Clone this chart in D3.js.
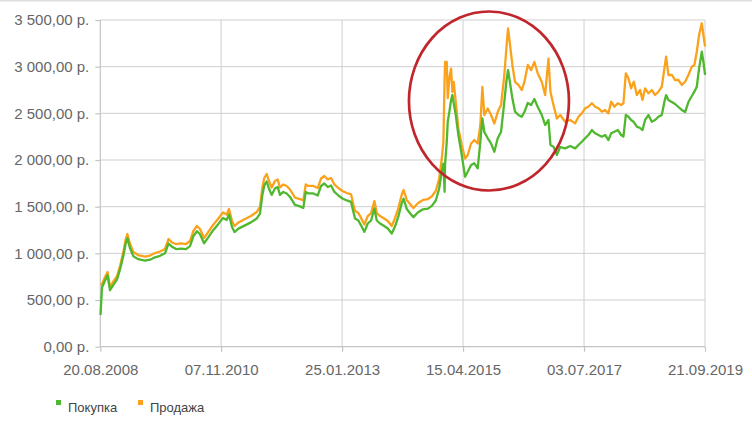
<!DOCTYPE html>
<html>
<head>
<meta charset="utf-8">
<script src="https://cdn.jsdelivr.net/npm/d3@7"></script>
<style>
  html, body { margin: 0; padding: 0; background: #fff; }
  svg { display: block; }
  text { font-family: "Liberation Sans", Arial, sans-serif; }
</style>
</head>
<body>
<svg id="chart" width="752" height="426"></svg>
<script>
// ---- Data ----
const seriesNames = ["Покупка", "Продажа"];
const seriesColors = ["#4fb82e", "#fba21c"];

// Dates as decimal years
const yearFrac = [
  2008.638, 2008.665, 2008.720, 2008.766, 2008.812, 2008.867, 2008.940, 2008.995,
  2009.059, 2009.096, 2009.129, 2009.179, 2009.239, 2009.325, 2009.454, 2009.545,
  2009.637, 2009.729, 2009.820, 2009.885, 2009.949, 2010.022, 2010.114, 2010.205,
  2010.279, 2010.339, 2010.407, 2010.462, 2010.536, 2010.614, 2010.701, 2010.792,
  2010.884, 2010.952, 2010.994, 2011.049, 2011.095, 2011.168, 2011.287, 2011.397,
  2011.502, 2011.562, 2011.605, 2011.641, 2011.685, 2011.727, 2011.777, 2011.837,
  2011.887, 2011.929, 2011.990, 2012.052, 2012.113, 2012.204, 2012.296, 2012.356,
  2012.400, 2012.448, 2012.540, 2012.620, 2012.681, 2012.741, 2012.804, 2012.864,
  2012.925, 2012.998, 2013.072, 2013.152, 2013.231, 2013.273, 2013.304, 2013.365,
  2013.414, 2013.475, 2013.537, 2013.598, 2013.658, 2013.702, 2013.763, 2013.823,
  2013.904, 2013.977, 2014.038, 2014.098, 2014.161, 2014.194, 2014.252, 2014.313,
  2014.374, 2014.460, 2014.551, 2014.643, 2014.716, 2014.784, 2014.845, 2014.894,
  2014.924, 2014.946, 2014.955, 2014.986, 2015.004, 2015.034, 2015.065, 2015.089,
  2015.114, 2015.151, 2015.199, 2015.261, 2015.322, 2015.371, 2015.432, 2015.492,
  2015.554, 2015.602, 2015.639, 2015.675, 2015.738, 2015.798, 2015.859, 2015.921,
  2015.982, 2016.042, 2016.079, 2016.110, 2016.147, 2016.189, 2016.238, 2016.299,
  2016.361, 2016.409, 2016.471, 2016.532, 2016.592, 2016.654, 2016.728, 2016.788,
  2016.849, 2016.886, 2016.941, 2017.003, 2017.064, 2017.155, 2017.247, 2017.339,
  2017.399, 2017.461, 2017.522, 2017.582, 2017.645, 2017.705, 2017.766, 2017.828,
  2017.889, 2017.949, 2017.999, 2018.059, 2018.122, 2018.182, 2018.224, 2018.268,
  2018.316, 2018.365, 2018.415, 2018.470, 2018.531, 2018.573, 2018.622, 2018.683,
  2018.745, 2018.805, 2018.866, 2018.928, 2018.976, 2019.007, 2019.049, 2019.112,
  2019.172, 2019.233, 2019.295, 2019.356, 2019.416, 2019.479, 2019.526, 2019.570,
  2019.612, 2019.662, 2019.691, 2019.722
];

// Продажа (sell, orange)
const sellValues = [
  661, 672, 747, 800, 640, 693, 757, 865,
  1025, 1143, 1207, 1100, 1015, 982, 966, 977,
  1004, 1020, 1047, 1154, 1116, 1100, 1106, 1100,
  1132, 1239, 1293, 1261, 1164, 1229, 1304, 1368,
  1438, 1416, 1475, 1347, 1293, 1331, 1368, 1400,
  1443, 1497, 1700, 1807, 1850, 1775, 1706, 1775,
  1791, 1706, 1738, 1722, 1684, 1598, 1582, 1566,
  1738, 1722, 1722, 1700, 1802, 1829, 1791, 1807,
  1738, 1700, 1668, 1647, 1631, 1523, 1454, 1432,
  1379, 1309, 1400, 1432, 1561, 1432, 1400, 1379,
  1347, 1293, 1379, 1486, 1631, 1679, 1572, 1529,
  1486, 1539, 1572, 1582, 1614, 1668, 1797, 2011,
  2193, 2857, 3050, 3050, 2664, 2879, 2980, 2729,
  2836, 2621, 2338, 2161, 2016, 2054, 2177, 2214,
  2177, 2375, 2782, 2482, 2552, 2482, 2391, 2514,
  2589, 2911, 3195, 3409, 3232, 3018, 2836, 2804,
  2750, 2836, 3018, 2964, 3050, 2927, 2836, 2696,
  3087, 2729, 2589, 2445, 2482, 2410, 2429, 2393,
  2464, 2500, 2554, 2571, 2608, 2571, 2554, 2518,
  2536, 2500, 2625, 2571, 2608, 2589, 2608, 2929,
  2875, 2768, 2839, 2696, 2750, 2643, 2768, 2715,
  2750, 2696, 2732, 2785, 2982, 3107, 2911, 2911,
  2857, 2857, 2804, 2839, 2911, 3000, 3018, 3160,
  3339, 3465, 3339, 3214
];

// Покупка (buy, green)
const buyValues = [
  340, 635, 710, 765, 605, 658, 722, 828,
  982, 1098, 1160, 1055, 970, 938, 921, 932,
  958, 974, 1001, 1106, 1070, 1046, 1050, 1046,
  1077, 1183, 1237, 1205, 1108, 1172, 1246, 1310,
  1380, 1358, 1416, 1282, 1228, 1265, 1300, 1332,
  1373, 1425, 1622, 1728, 1770, 1695, 1626, 1695,
  1711, 1626, 1658, 1642, 1604, 1520, 1503, 1487,
  1658, 1642, 1642, 1620, 1722, 1749, 1711, 1727,
  1658, 1620, 1588, 1567, 1551, 1443, 1374, 1352,
  1299, 1230, 1320, 1352, 1481, 1352, 1320, 1299,
  1267, 1213, 1290, 1396, 1540, 1585, 1476, 1430,
  1388, 1440, 1472, 1480, 1512, 1566, 1690, 1875,
  1960, 1660, 1950, 2196, 2410, 2518, 2643, 2696,
  2607, 2482, 2268, 2054, 1821, 1875, 1947, 1965,
  1911, 2196, 2447, 2300, 2233, 2179, 2089, 2233,
  2303, 2625, 2839, 2964, 2822, 2661, 2518, 2482,
  2464, 2514, 2611, 2589, 2654, 2568, 2482, 2375,
  2429, 2161, 2143, 2054, 2139, 2125, 2150, 2125,
  2161, 2196, 2233, 2268, 2321, 2286, 2268, 2250,
  2268, 2214, 2286, 2303, 2321, 2268, 2250, 2482,
  2464, 2429, 2407, 2357, 2343, 2321, 2429, 2482,
  2410, 2429, 2464, 2482, 2625, 2696, 2643, 2621,
  2600, 2568, 2536, 2514, 2621, 2686, 2732, 2785,
  2982, 3160, 3053, 2911
];

const xTickLabels = ["20.08.2008", "07.11.2010", "25.01.2013", "15.04.2015", "03.07.2017", "21.09.2019"];
const yTickValues = [0, 500, 1000, 1500, 2000, 2500, 3000, 3500];

// Highlighted region (ellipse annotation), in data space
const highlightCenter = { year: 2015.76, value: 2632 };

// ---- Helpers ----
function toDate(yf) {
  const yr = Math.floor(yf);
  const a = new Date(yr, 0, 1), b = new Date(yr + 1, 0, 1);
  return new Date(+a + (yf - yr) * (b - a));
}
const parse = d3.timeParse("%d.%m.%Y");
const fmtDate = d3.timeFormat("%d.%m.%Y");
const ru = d3.formatLocale({ decimal: ",", thousands: " ", grouping: [3], currency: ["", " р."] });
const fmtNum = ru.format(",.2f");

// ---- Layout ----
const svg = d3.select("#chart");
const plotLeft = 100.3, plotRight = 705, plotTop = 20, plotBottom = 346.7;
const gridColor = "#cfcfcf";
const axisColor = "#c4c4c4";
const labelColor = "#666";

const xTicks = xTickLabels.map(parse);
const x = d3.scaleTime().domain([xTicks[0], xTicks[xTicks.length - 1]]).range([plotLeft, plotRight]);
const y = d3.scaleLinear().domain([0, 3500]).range([plotBottom, plotTop]);

// top border line of the container
svg.append("line").attr("x1", 0).attr("x2", 752).attr("y1", 0.75).attr("y2", 0.75)
  .attr("stroke", "#dedede").attr("stroke-width", 1.5);

// gridlines
const grid = svg.append("g");
grid.selectAll("line.h").data(yTickValues.filter(v => v > 0)).join("line")
  .attr("x1", plotLeft).attr("x2", plotRight)
  .attr("y1", d => y(d)).attr("y2", d => y(d))
  .attr("stroke", gridColor).attr("stroke-width", 1);
grid.selectAll("line.v").data(xTicks.slice(1)).join("line")
  .attr("x1", d => x(d)).attr("x2", d => x(d))
  .attr("y1", plotTop).attr("y2", plotBottom)
  .attr("stroke", gridColor).attr("stroke-width", 1);

// axes
const yAxis = d3.axisLeft(y).tickValues(yTickValues).tickSize(5).tickPadding(6)
  .tickFormat(d => fmtNum(d) + " р.");
const gy = svg.append("g").attr("transform", `translate(${plotLeft},0)`).call(yAxis);
const xAxis = d3.axisBottom(x).tickValues(xTicks).tickSize(5).tickPadding(13)
  .tickFormat(fmtDate);
const gx = svg.append("g").attr("transform", `translate(0,${plotBottom})`).call(xAxis);

[gy, gx].forEach(g => {
  g.select(".domain").attr("stroke", axisColor).attr("stroke-width", 1.2);
  g.selectAll(".tick line").attr("stroke", axisColor).attr("stroke-width", 1.2);
  g.selectAll(".tick text").attr("fill", labelColor)
    .style("font-size", "15px").style("font-family", "'Liberation Sans', Arial, sans-serif");
});
gy.select(".domain").attr("d", `M0,${plotTop}V${plotBottom}`);
gx.select(".domain").attr("d", `M${plotLeft},0H${plotRight}`);

// series lines
const dates = yearFrac.map(toDate);
const line = d3.line().x((d, i) => x(dates[i])).y(d => y(d));
const seriesValues = [buyValues, sellValues];
// draw sell (orange) first, buy (green) on top
[1, 0].forEach(k => {
  svg.append("path")
    .datum(seriesValues[k])
    .attr("d", line)
    .attr("fill", "none")
    .attr("stroke", seriesColors[k])
    .attr("stroke-width", 2.3)
    .attr("stroke-linejoin", "round");
});

// red ellipse annotation
svg.append("ellipse")
  .attr("cx", x(toDate(highlightCenter.year)))
  .attr("cy", y(highlightCenter.value))
  .attr("rx", 80).attr("ry", 89.5)
  .attr("fill", "none").attr("stroke", "#c1262d").attr("stroke-width", 2.7);

// legend
const legend = svg.append("g").attr("transform", "translate(56,400)");
const legendOffsets = [0, 82];
seriesNames.forEach((name, i) => {
  const g = legend.append("g").attr("transform", `translate(${legendOffsets[i]},0)`);
  g.append("rect").attr("x", 0).attr("y", 0).attr("width", 5).attr("height", 5)
    .attr("fill", seriesColors[i]);
  g.append("text").attr("x", 12).attr("y", 11.5).text(name)
    .attr("fill", "#444").style("font-size", "13px");
});
</script>
</body>
</html>
